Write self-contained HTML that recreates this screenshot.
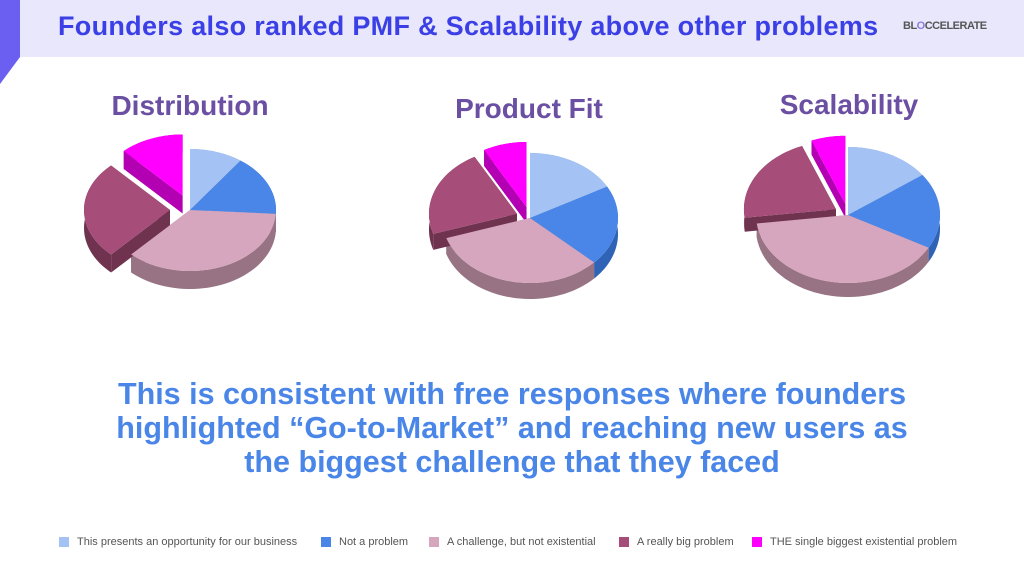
<!DOCTYPE html>
<html><head><meta charset="utf-8"><style>
body{margin:0;width:1024px;height:576px;overflow:hidden;background:#fff;font-family:"Liberation Sans",sans-serif;position:relative}
.hdr{position:absolute;left:0;top:0;width:1024px;height:57px;background:#e9e7fb}
.ttl{position:absolute;left:58px;top:11px;font-size:27px;font-weight:bold;color:#3b3fe6;letter-spacing:0.3px;white-space:nowrap}
.logo{position:absolute;left:903px;top:20px;font-size:11px;font-weight:bold;color:#555;letter-spacing:-0.5px}
.pt{position:absolute;font-size:28px;font-weight:bold;color:#6b4fa3;text-align:center;width:300px}
.msg{position:absolute;left:0;top:377px;width:1024px;text-align:center;font-size:30.5px;line-height:34px;font-weight:bold;color:#4a86e8;white-space:nowrap}
.leg{position:absolute;top:536px;font-size:11px;color:#555;display:flex;align-items:center;white-space:nowrap}
.leg i{display:inline-block;width:10px;height:10px;margin-right:8px}
</style></head><body>
<div class="hdr"></div>
<svg style="position:absolute;left:0;top:0" width="30" height="90"><polygon points="0,0 20,0 20,57 0,84" fill="#6a5ff0"/></svg>
<div class="ttl">Founders also ranked PMF &amp; Scalability above other problems</div>
<div class="logo">BL<span style="color:#8a7de0">O</span>CCELERATE</div>
<div class="pt" style="left:40px;top:90px">Distribution</div>
<div class="pt" style="left:379px;top:93px">Product Fit</div>
<div class="pt" style="left:699px;top:89px">Scalability</div>
<svg id="pies" style="position:absolute;left:0;top:0" width="1024" height="340"></svg>
<div class="msg">This is consistent with free responses where founders<br>highlighted “Go-to-Market” and reaching new users as<br>the biggest challenge that they faced</div>
<div class="leg" style="left:59px"><i style="background:#a4c2f4"></i>This presents an opportunity for our business</div>
<div class="leg" style="left:321px"><i style="background:#4a86e8"></i>Not a problem</div>
<div class="leg" style="left:429px"><i style="background:#d5a6bd"></i>A challenge, but not existential</div>
<div class="leg" style="left:619px"><i style="background:#a64d79"></i>A really big problem</div>
<div class="leg" style="left:752px"><i style="background:#ff00ff"></i>THE single biggest existential problem</div>
<script>
const categories=["opportunity","not-a-problem","challenge","really-big","biggest"];
const distribution=[10,16,36,26,12];
const productFit=[17,20,33,22,8];
const scalability=[15,18,40,21,6];
const exploded=[0,0,0,1,1];
const topCol=["#a4c2f4","#4a86e8","#d5a6bd","#a64d79","#ff00ff"];
const sideCol=["#7f9ccc","#2e63b5","#977384","#6f3350","#b300b3"];
const NS="http://www.w3.org/2000/svg";
const svg=document.getElementById('pies');
function pie(name,vals,cx,cy,rx,ry,d,offAmt){
  const tot=vals.reduce((a,b)=>a+b,0);
  const g=document.createElementNS(NS,'g');
  
  
  svg.appendChild(g);
  let a=0;const slices=[];
  vals.forEach((v,i)=>{const a0=a,a1=a+v/tot*2*Math.PI;a=a1;
    const m=(a0+a1)/2,off=exploded[i]?offAmt:0;
    slices.push({i,a0,a1,ox:cx+off*Math.sin(m),oy:cy-off*Math.cos(m)*ry/rx*1.1});});
  const P=(s,t,dy)=>[s.ox+rx*Math.sin(t),s.oy-ry*Math.cos(t)+dy];
  function arc(s,dy,rev){const pts=[];const n=40;for(let k=0;k<=n;k++){const t=s.a0+(s.a1-s.a0)*(rev?n-k:k)/n;pts.push(P(s,t,dy));}return pts;}
  const sides=document.createElementNS(NS,'g');g.appendChild(sides);
  const tops=document.createElementNS(NS,'g');g.appendChild(tops);
  slices.forEach(s=>{
    const c=[s.ox,s.oy];
    [[c,P(s,s.a0,0)],[c,P(s,s.a1,0)]].forEach(e=>{
      const p=document.createElementNS(NS,'polygon');
      p.setAttribute('points',[e[0],e[1],[e[1][0],e[1][1]+d],[e[0][0],e[0][1]+d]].map(q=>q.join(',')).join(' '));
      p.setAttribute('fill',sideCol[s.i]);
      
      
      sides.appendChild(p);});
    const band=document.createElementNS(NS,'polygon');
    band.setAttribute('points',arc(s,0,false).concat(arc(s,d,true)).map(q=>q.join(',')).join(' '));
    band.setAttribute('fill',sideCol[s.i]);
    
    
    sides.appendChild(band);
    const top=document.createElementNS(NS,'polygon');
    top.setAttribute('points',[c].concat(arc(s,0,false)).map(q=>q.join(',')).join(' '));
    top.setAttribute('fill',topCol[s.i]);
    
    
    tops.appendChild(top);
  });
}
pie('distribution',distribution,190,210,86,61,18,20);
pie('product-fit',productFit,530,218,88,65,16,14);
pie('scalability',scalability,848,215,92,68,14,14);
</script>
</body></html>
